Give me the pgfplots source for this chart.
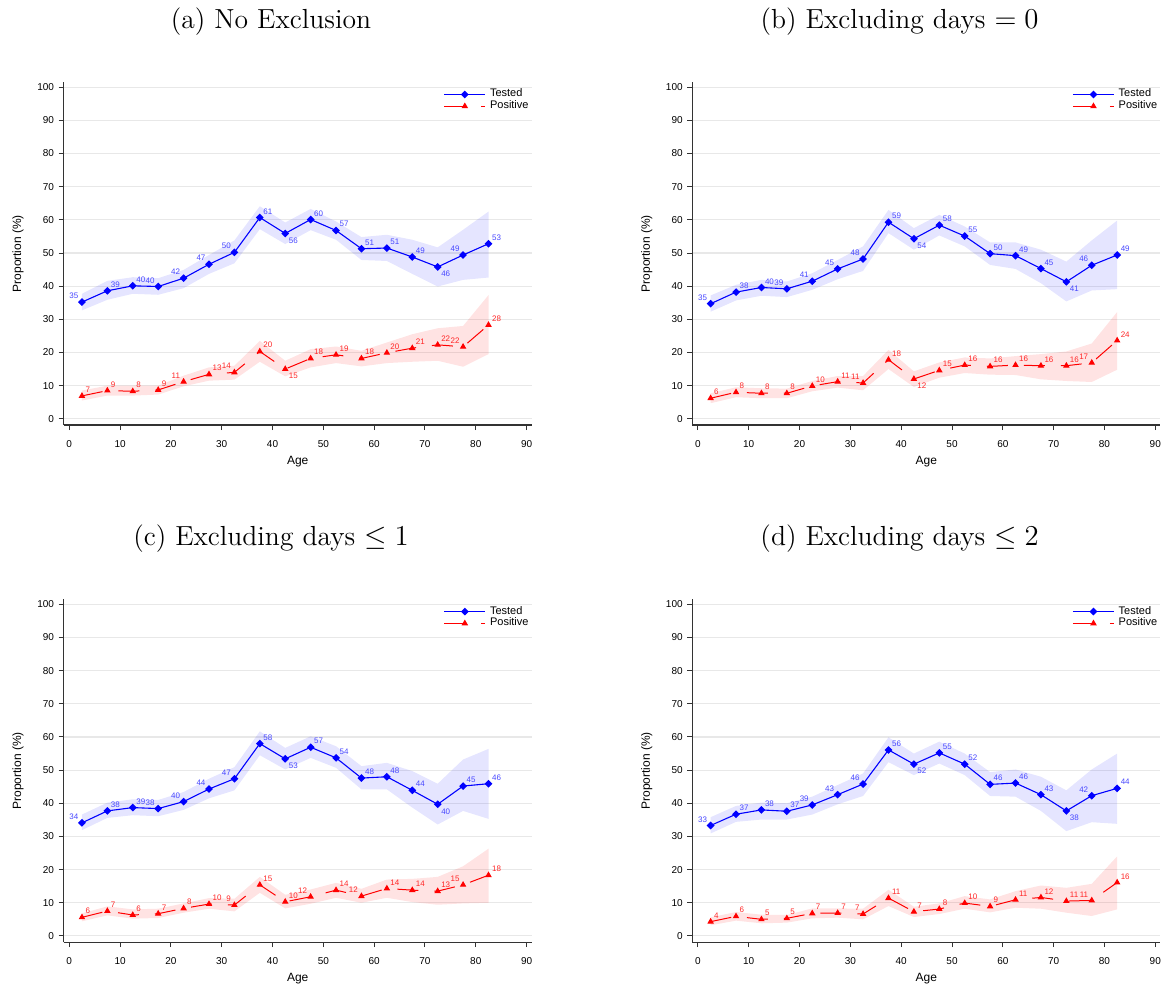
\documentclass[border=0pt]{standalone}
\usepackage{pgfplots}
\pgfplotsset{compat=1.18}
\usepackage{pgfplotstable}
\usepgfplotslibrary{fillbetween}
\usepackage{fontspec}
\newfontfamily\arial{Liberation Sans}
\newcommand\tickfont{\arial\fontsize{5}{6}\selectfont}
\newcommand\labfont{\arial\fontsize{6}{7}\selectfont}
\newcommand\legfont{\arial\fontsize{5.5}{6}\selectfont}
\newcommand\lblfont{\arial\fontsize{4}{4.5}\selectfont}
\newcommand\titlefont{\rmfamily\fontsize{13.8}{16}\selectfont}

% x: age group midpoint; t: tested (%), tlo/thi: CI; tl: label; ta: label position (1 upper right, 2 upper left, 3 lower right)
% p: positive (%), plo/phi: CI; pl: label; pa: label position
\pgfplotstableread{
x    t    tlo  thi  tl ta p    plo  phi  pl pa
2.5  35.2 32.7 37.7 35 2  6.9  5.5  8.5  7  1
7.5  38.6 35.9 41.6 39 1  8.5  7.0  10.0 9  1
12.5 40.1 37.7 42.7 40 1  8.3  7.0  10.0 8  1
17.5 39.9 37.4 42.4 40 2  8.7  7.3  10.0 9  1
22.5 42.4 39.4 44.9 42 2  11.2 9.8  13.0 11 2
27.5 46.6 43.7 49.4 47 2  13.4 11.5 15.5 13 1
32.5 50.2 46.9 53.8 50 2  14.0 11.8 16.0 14 2
37.5 60.7 57.2 64.1 61 1  20.3 17.2 23.5 20 1
42.5 55.9 52.7 59.2 56 3  15.0 12.8 17.5 15 3
47.5 60.1 56.9 63.3 60 1  18.2 15.5 21.0 18 1
52.5 56.8 54.0 59.5 57 1  19.3 16.8 21.8 19 1
57.5 51.3 47.9 54.8 51 1  18.2 15.8 20.5 18 1
62.5 51.5 47.6 55.5 51 1  19.9 16.8 23.0 20 1
67.5 48.8 43.7 54.0 49 1  21.3 17.2 25.5 21 1
72.5 45.8 39.9 51.7 46 3  22.3 17.5 27.3 22 1
77.5 49.4 41.9 57.0 49 2  21.7 15.7 28.0 22 2
82.5 52.8 42.6 62.5 53 1  28.3 19.5 37.3 28 1
}\tabA
\pgfplotstableread{
x    t    tlo  thi  tl ta p    plo  phi  pl pa
2.5  34.7 32.3 37.2 35 2  6.2  4.7  7.7  6  1
7.5  38.2 35.7 40.4 38 1  8.0  6.5  9.5  8  1
12.5 39.6 37.1 41.9 40 1  7.7  6.2  9.2  8  1
17.5 39.2 36.7 41.4 39 2  7.7  6.2  9.1  8  1
22.5 41.5 38.9 43.9 41 2  9.9  8.3  11.4 10 1
27.5 45.2 42.1 47.9 45 2  11.2 9.4  12.9 11 1
32.5 48.2 44.6 52.0 48 2  10.8 8.6  12.9 11 2
37.5 59.3 56.0 63.0 59 1  17.8 15.0 20.8 18 1
42.5 54.3 51.0 57.5 54 3  12.0 9.6  14.3 12 3
47.5 58.4 55.3 61.5 58 1  14.6 12.4 17.0 15 1
52.5 55.1 52.0 58.0 55 1  16.2 13.8 18.5 16 1
57.5 49.8 46.4 53.2 50 1  15.8 13.3 18.2 16 1
62.5 49.2 45.2 53.2 49 1  16.2 13.2 18.9 16 1
67.5 45.3 40.9 51.0 45 1  16.0 11.9 19.5 16 1
72.5 41.3 35.4 47.4 41 3  16.0 11.4 20.3 16 1
77.5 46.3 38.7 53.8 46 2  16.9 11.1 22.7 17 2
82.5 49.4 39.1 59.8 49 1  23.6 14.8 32.2 24 1
}\tabB
\pgfplotstableread{
x    t    tlo  thi  tl ta p    plo  phi  pl pa
2.5  34.1 31.9 36.6 34 2  5.6  4.4  6.8  6  1
7.5  37.7 35.6 40.2 38 1  7.5  6.2  8.9  7  1
12.5 38.7 36.4 41.2 39 1  6.3  5.2  8.0  6  1
17.5 38.4 36.1 41.0 38 2  6.7  5.4  8.2  7  1
22.5 40.5 38.0 43.4 40 2  8.3  7.0  9.8  8  1
27.5 44.3 41.5 47.4 44 2  9.6  8.2  11.4 10 1
32.5 47.4 43.9 50.9 47 2  9.3  7.4  11.2 9  2
37.5 58.0 54.5 61.7 58 1  15.4 13.0 17.8 15 1
42.5 53.4 50.2 56.7 53 3  10.3 8.3  12.4 10 1
47.5 56.9 53.7 60.2 57 1  11.8 9.7  14.0 12 2
52.5 53.7 50.7 57.2 54 1  13.8 11.5 16.0 14 1
57.5 47.6 44.2 51.2 48 1  12.0 10.0 14.2 12 2
62.5 48.0 44.2 52.2 48 1  14.3 11.5 17.0 14 1
67.5 43.9 38.7 49.7 44 1  13.8 10.2 17.2 14 1
72.5 39.7 33.6 45.9 40 3  13.5 9.4  17.8 13 1
77.5 45.2 37.7 53.2 45 1  15.4 9.8  21.0 15 2
82.5 45.9 35.3 56.4 46 1  18.3 10.0 26.3 18 1
}\tabC
\pgfplotstableread{
x    t    tlo  thi  tl ta p    plo  phi  pl pa
2.5  33.3 30.9 35.8 33 2  4.3  3.2  5.6  4  1
7.5  36.7 34.4 39.2 37 1  5.9  4.6  7.2  6  1
12.5 38.0 35.1 40.2 38 1  5.0  3.8  6.4  5  1
17.5 37.6 35.1 40.0 37 1  5.3  4.0  6.3  5  1
22.5 39.5 36.6 42.0 39 2  6.8  5.3  8.3  7  1
27.5 42.6 39.7 45.5 43 2  6.9  5.5  8.3  7  1
32.5 45.8 42.2 49.0 46 2  6.6  5.0  8.2  7  2
37.5 56.1 52.4 59.9 56 1  11.4 9.0  13.9 11 1
42.5 51.8 48.5 55.0 52 3  7.3  5.7  8.8  7  1
47.5 55.2 52.0 58.6 55 1  8.1  6.6  9.8  8  1
52.5 51.8 48.5 55.0 52 1  9.9  8.2  12.0 10 1
57.5 45.7 42.2 49.4 46 1  8.9  7.1  11.0 9  1
62.5 46.1 42.0 50.2 46 1  10.9 8.5  13.5 11 1
67.5 42.6 37.7 48.0 43 1  11.6 8.2  15.2 12 1
72.5 37.7 31.6 43.9 38 3  10.5 7.0  14.5 11 1
77.5 42.3 34.3 50.2 42 2  10.7 6.0  15.7 11 2
82.5 44.5 33.8 55.0 44 1  16.1 8.0  24.0 16 1
}\tabD

\pgfplotsset{
  panel/.style={
    scale only axis, width=234.15pt, height=171.5pt, anchor=south west,
    xmin=-1.1, xmax=91, ymin=-1.9, ymax=101.5,
    axis lines=left, axis line style={-, line width=0.65pt, black!80},
    xtick={0,10,...,90}, ytick={0,10,...,100},
    tick align=outside, major tick length=2.5pt,
    tick style={line width=0.5pt, black!80},
    ymajorgrids, grid style={line width=0.6pt, black!9},
    ticklabel style={font=\tickfont},
    xticklabel style={yshift=-1.5pt, overlay},
    yticklabel style={xshift=1.2pt},
    /pgf/number format/assume math mode=true,
    xlabel={Age}, ylabel={Proportion (\%)},
    label style={font=\labfont},
    xlabel style={at={(axis description cs:0.5,-0.107)}, anchor=center},
    ylabel style={at={(axis description cs:-0.0976,0.5)}, anchor=center},
    title style={at={(axis description cs:0.443,1)}, anchor=center, yshift=24.4pt, font=\titlefont},
    legend style={at={(axis description cs:0.9967,0.985)}, anchor=north east,
      draw=none, fill=none, font=\legfont, inner sep=0pt, row sep=-0.8pt,
      column sep=1.5pt, nodes={inner sep=0.6pt}},
    legend cell align=left,
    legend image code/.code={\draw[mark repeat=2,mark phase=2,##1] plot coordinates {(0pt,0pt) (10.25pt,0pt) (20.5pt,0pt)};},
  },
  tested/.style={blue, line width=0.55pt, mark=square*, mark size=1.1pt,
    mark options={rotate=45, solid}},
  positive/.style={red, line width=0.5pt, dash pattern=on 10.5pt off 8pt,
    mark=triangle*, mark size=1.4pt, mark options={solid}},
  lblbase/.style={forget plot, draw=none, mark=none,
    nodes near coords, point meta=explicit symbolic,
    every node near coord/.append style={font=\lblfont, inner sep=0pt}},
  pos1/.style={every node near coord/.append style={anchor=south west, xshift=1.6pt, yshift=1.5pt}},
  pos2/.style={every node near coord/.append style={anchor=south east, xshift=-1.6pt, yshift=1.5pt}},
  pos3/.style={every node near coord/.append style={anchor=north west, xshift=1.6pt, yshift=-1.9pt}},
}

% #1 table, #2 value column, #3 label column, #4 position column, #5 position code, #6 colour
\newcommand{\lab}[6]{%
\addplot[lblbase, pos#5, restrict expr to domain={\thisrow{#4}}{#5:#5.01},
  every node near coord/.append style={text=#6}] table[x=x,y=#2,meta=#3]{#1};}

\newcommand{\panelbody}[1]{%
\addplot[name path=thi, draw=none, forget plot] table[x=x,y=thi]{#1};
\addplot[name path=tlo, draw=none, forget plot] table[x=x,y=tlo]{#1};
\addplot[forget plot, fill=blue, fill opacity=0.1, draw=none] fill between[of=thi and tlo];
\addplot[name path=phi, draw=none, forget plot] table[x=x,y=phi]{#1};
\addplot[name path=plo, draw=none, forget plot] table[x=x,y=plo]{#1};
\addplot[forget plot, fill=red, fill opacity=0.11, draw=none] fill between[of=phi and plo];
\addplot[tested] table[x=x,y=t]{#1};
\addlegendentry{Tested}
\addplot[positive] table[x=x,y=p]{#1};
\addlegendentry{Positive}
\lab{#1}{t}{tl}{ta}{1}{blue!72}
\lab{#1}{t}{tl}{ta}{2}{blue!72}
\lab{#1}{t}{tl}{ta}{3}{blue!72}
\lab{#1}{p}{pl}{pa}{1}{red!85}
\lab{#1}{p}{pl}{pa}{2}{red!85}
}

\begin{document}
\begin{tikzpicture}
\begin{axis}[panel, at={(31.85pt,-212.65pt)}, title={(a) No Exclusion}]
\panelbody{\tabA}
\lab{\tabA}{p}{pl}{pa}{3}{red!85}
\end{axis}
\begin{axis}[panel, at={(346.35pt,-212.65pt)}, title={(b) Excluding days $=0$}]
\panelbody{\tabB}
\lab{\tabB}{p}{pl}{pa}{3}{red!85}
\end{axis}
\begin{axis}[panel, at={(31.85pt,-471.35pt)}, title={(c) Excluding days $\leq 1$}]
\panelbody{\tabC}
\end{axis}
\begin{axis}[panel, at={(346.35pt,-471.35pt)}, title={(d) Excluding days $\leq 2$}]
\panelbody{\tabD}
\end{axis}
\path (0pt,0pt) rectangle (580.5pt,-492.5pt);
\end{tikzpicture}
\end{document}
